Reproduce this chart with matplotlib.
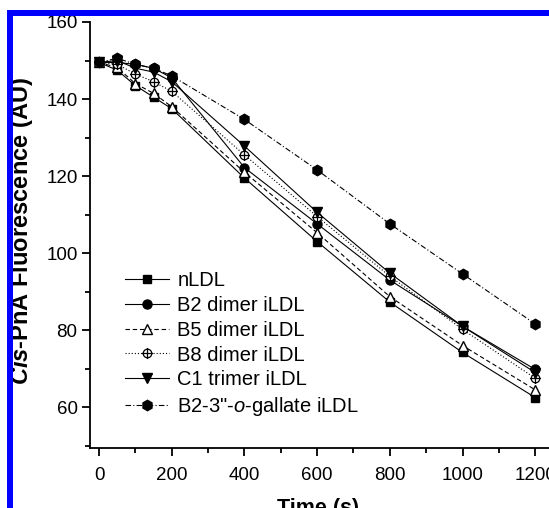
import matplotlib
matplotlib.use("Agg")
import matplotlib.pyplot as plt
from matplotlib.path import Path
from matplotlib.ticker import MultipleLocator
from matplotlib.patches import Rectangle

plt.rcParams['font.family'] = ['Liberation Sans', 'DejaVu Sans']
plt.rcParams['mathtext.fontset'] = 'custom'
plt.rcParams['mathtext.rm'] = 'Liberation Sans'
plt.rcParams['mathtext.it'] = 'Liberation Sans:italic'
plt.rcParams['mathtext.bf'] = 'Liberation Sans:bold'
plt.rcParams['mathtext.bfit'] = 'Liberation Sans:bold:italic'

time_s = [0, 50, 100, 150, 200, 400, 600, 800, 1000, 1200]
nldl = [149.5, 147.5, 143.5, 140.5, 137.5, 119.5, 103.0, 87.3, 74.2, 62.5]
b2_dimer = [149.5, 149.5, 149.0, 148.0, 145.5, 122.2, 107.6, 93.0, 81.0, 69.8]
b5_dimer = [149.5, 148.2, 144.0, 141.5, 138.0, 121.0, 105.3, 88.7, 76.0, 64.5]
b8_dimer = [149.5, 149.0, 146.5, 144.5, 142.0, 125.5, 109.5, 94.0, 80.2, 67.5]
c1_trimer = [149.5, 150.0, 148.0, 147.0, 144.5, 127.8, 110.6, 94.8, 81.0, 69.0]
b2_gallate = [149.5, 150.6, 149.0, 148.0, 146.0, 134.7, 121.6, 107.6, 94.6, 81.6]

labels = ['nLDL', 'B2 dimer iLDL', 'B5 dimer iLDL', 'B8 dimer iLDL',
          'C1 trimer iLDL', 'B2-3"-$\\mathit{o}$-gallate iLDL']

W, H = 549, 508
fig = plt.figure(figsize=(W/100, H/100), dpi=100)
ax_l, ax_r, ax_t, ax_b = 90, 549, 22, 448
ax = fig.add_axes([ax_l/W, 1-ax_b/H, (ax_r-ax_l)/W, (ax_b-ax_t)/H])

xlim = (-24.8, (ax_r-99)/0.3635)
ax.set_xlim(xlim)
ax.set_ylim(49.4, 160)

circ = Path.unit_circle()
cross = Path([(-1.2, 0), (1.2, 0), (0, -1.3), (0, 1.3)],
             [Path.MOVETO, Path.LINETO, Path.MOVETO, Path.LINETO])
cross_circle = Path.make_compound_path(circ, cross)

lw = 0.8
series = [
    (nldl, dict(ls='-', marker='s', ms=6, mfc='black')),
    (b2_dimer, dict(ls='-', marker='o', ms=6.5, mfc='black')),
    (b5_dimer, dict(ls=(0, (4, 2.5)), marker='^', ms=7.5, mfc='white')),
    (b8_dimer, dict(ls=(0, (1, 1.8)), marker=cross_circle, ms=8, mfc='white', mew=0.9)),
    (c1_trimer, dict(ls='-', marker='v', ms=7.5, mfc='black')),
    (b2_gallate, dict(ls=(0, (5, 2, 1, 2)), marker='h', ms=7.5, mfc='black')),
]
for (vals, kw), lab in zip(series, labels):
    ax.plot(time_s, vals, color='black', lw=lw, mec='black', label=lab,
            clip_on=False, **kw)

for s in ['top', 'right']:
    ax.spines[s].set_visible(False)
for s in ['left', 'bottom']:
    ax.spines[s].set_linewidth(1.3)

ax.set_xticks([0, 200, 400, 600, 800, 1000, 1200])
ax.set_yticks([60, 80, 100, 120, 140, 160])
ax.xaxis.set_minor_locator(MultipleLocator(100))
ax.yaxis.set_minor_locator(MultipleLocator(10))
ax.tick_params(which='major', direction='out', length=6, width=1.3, labelsize=13.5, pad=3)
ax.tick_params(which='minor', direction='out', length=3.5, width=1.3)
ax.tick_params(axis='x', which='major', pad=8)

ax.set_xlabel('Time (s)', fontsize=15.5, fontweight='bold', va='top')
ax.xaxis.set_label_coords(318/W, 1-498/H, transform=fig.transFigure)
ax.set_ylabel('$\\mathbfit{Cis}$-PnA Fluorescence (AU)', fontsize=17, fontweight='bold',
              va='center')
ax.yaxis.set_label_coords(22/W, 1-231/H, transform=fig.transFigure)

leg = ax.legend(loc='upper left', bbox_to_anchor=(125/W, 1-271/H),
                bbox_transform=fig.transFigure, frameon=False, fontsize=14.5,
                handlelength=2.2, handletextpad=0.4, labelspacing=0.29,
                borderpad=0, borderaxespad=0, numpoints=1)

fig.patches.append(Rectangle((7/W, 1-16/H), (W-7)/W, 6/H, transform=fig.transFigure,
                             facecolor=(0, 0, 1), edgecolor='none', zorder=10))
fig.patches.append(Rectangle((7/W, 0), 6/W, 1-10/H, transform=fig.transFigure,
                             facecolor=(0, 0, 1), edgecolor='none', zorder=10))

fig.savefig('out.png', dpi=100)
